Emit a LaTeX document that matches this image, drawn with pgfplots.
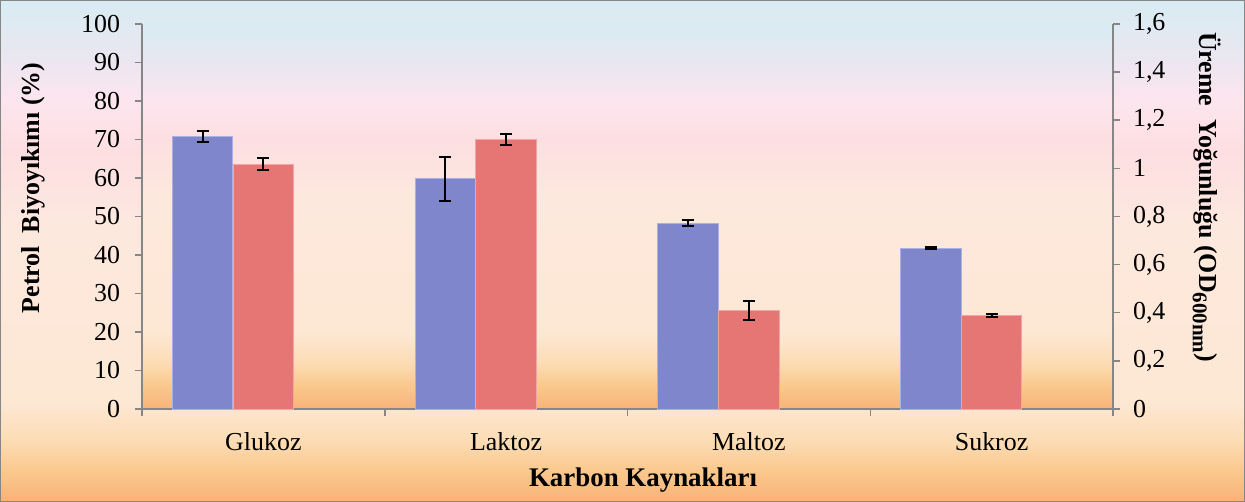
\documentclass[border=0pt]{standalone}
\usepackage{fontspec}
\setmainfont{Liberation Serif}
\usepackage{pgfplots}
\pgfplotsset{compat=1.18}
\definecolor{barblue}{RGB}{128,134,204}
\definecolor{barblueedge}{RGB}{170,175,228}
\definecolor{barred}{RGB}{230,118,116}
\definecolor{barrededge}{RGB}{242,165,165}
\definecolor{axgray}{RGB}{134,134,134}
\definecolor{bgA}{RGB}{248,178,120}
\definecolor{bgB}{RGB}{250,200,140}
\definecolor{bgC}{RGB}{252,220,180}
\definecolor{bgD}{RGB}{253,232,212}
\definecolor{bgE}{RGB}{253,232,222}
\definecolor{bgF}{RGB}{253,223,226}
\definecolor{bgG}{RGB}{253,229,238}
\definecolor{bgH}{RGB}{236,230,240}
\definecolor{bgI}{RGB}{216,236,243}
\pgfdeclareverticalshading{bgshade}{100bp}{color(0bp)=(bgA); color(25bp)=(bgA); color(28bp)=(bgB); color(31bp)=(bgC); color(35bp)=(bgD); color(52.5bp)=(bgE); color(60bp)=(bgF); color(65bp)=(bgG); color(69bp)=(bgH); color(75bp)=(bgI); color(100bp)=(bgI)}

% blue bars sit one bar width left of each category centre
\pgfplotstableread{
x y e
-0.25 70.8 1.5
0.75 59.8 5.7
1.75 48.3 0.7
2.75 41.8 0.15
}\petrol
\pgfplotstableread{
x y e
0 1.018 0.026
1 1.120 0.022
2 0.409 0.038
3 0.388 0.007
}\ureme

\begin{document}
\begin{tikzpicture}
\useasboundingbox (0,0) rectangle (622.5bp,251bp);
\shadedraw[shading=bgshade, draw=axgray, line width=0.6bp] (0.4bp,0.4bp) rectangle (622.1bp,250.6bp);

\begin{axis}[
  at={(71bp,46.5bp)}, anchor=south west,
  scale only axis, width=485.5bp, height=192.5bp,
  xmin=-0.5, xmax=3.5, ymin=0, ymax=100,
  ytick={0,10,20,30,40,50,60,70,80,90,100},
  xtick={-0.5,0.5,1.5,2.5,3.5}, xticklabels={},
  extra x ticks={0,1,2,3},
  extra x tick labels={Glukoz,Laktoz,Maltoz,Sukroz},
  extra x tick style={major tick length=0pt, tick label style={yshift=-8bp}},
  axis y line*=left, axis x line*=bottom,
  axis line style={axgray, line width=0.75bp, -},
  tick style={axgray, line width=0.75bp},
  tick align=outside, major tick length=3.5bp,
  tick label style={font=\fontsize{13}{15}\selectfont, black},
  yticklabel style={xshift=-4bp},
  /pgf/number format/assume math mode=true,
  axis background/.style={shade, shading=bgshade},
  clip=false,
]
\addplot[ybar, bar width=30.25bp, bar shift=0bp, fill=barblue, draw=barblueedge, line width=0.5bp,
  error bars/.cd, y dir=both, y explicit,
  error bar style={black, line width=1bp},
  error mark options={rotate=90, black, mark size=3bp, line width=1bp}]
  table[x=x, y=y, y error=e]{\petrol};
\end{axis}

\begin{axis}[
  at={(71bp,46.5bp)}, anchor=south west,
  scale only axis, width=485.5bp, height=192.5bp,
  xmin=-0.5, xmax=3.5, ymin=0, ymax=1.6,
  ytick={0,0.2,0.4,0.6,0.8,1,1.2,1.4,1.6},
  axis y line*=right, axis x line=none,
  axis line style={axgray, line width=0.75bp, -},
  tick style={axgray, line width=0.75bp},
  tick align=outside, major tick length=3.5bp,
  tick label style={font=\fontsize{13}{15}\selectfont, black},
  yticklabel style={xshift=3bp, /pgf/number format/.cd, fixed, precision=1, use comma},
  /pgf/number format/assume math mode=true,
  clip=false,
]
\addplot[ybar, bar width=30.25bp, bar shift=0bp, fill=barred, draw=barrededge, line width=0.5bp,
  error bars/.cd, y dir=both, y explicit,
  error bar style={black, line width=1bp},
  error mark options={rotate=90, black, mark size=3bp, line width=1bp}]
  table[x=x, y=y, y error=e]{\ureme};
\end{axis}

\node[rotate=90, font=\bfseries\fontsize{13}{15}\selectfont] at (16.5bp,157bp) {Petrol\ \ Biyoyıkımı (\%)};
\node[rotate=-90, font=\bfseries\fontsize{13}{15}\selectfont] at (603.5bp,152.5bp) {Üreme\ \ Yoğunluğu (OD\raisebox{-3.5bp}{\fontsize{10.5}{11}\selectfont 600nm})};
\node[font=\bfseries\fontsize{13.5}{15}\selectfont] at (321.5bp,11bp) {Karbon Kaynakları};
\end{tikzpicture}
\end{document}
